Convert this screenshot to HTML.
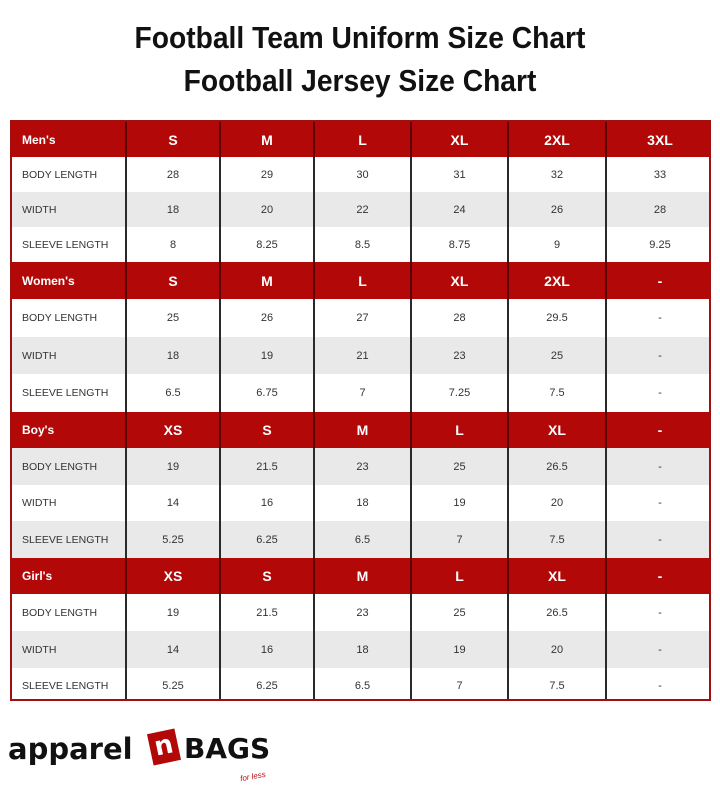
<!DOCTYPE html>
<html><head><meta charset="utf-8"><style>
body{margin:0;width:720px;height:805px;background:#fff;position:relative;overflow:hidden;font-family:"Liberation Sans",sans-serif}
.t{position:absolute;left:0;width:720px;text-align:center;font-family:"Liberation Sans Narrow","Liberation Sans",sans-serif;font-weight:bold;font-size:31px;color:#111;transform:scaleX(0.91)}
.tbl{position:absolute;left:10px;top:120px;width:701px;height:581px;border:2px solid #a01010;box-sizing:border-box;overflow:hidden}
.r{position:absolute;left:0;width:701px;display:flex}
.r div{box-sizing:border-box;display:flex;align-items:center;justify-content:center;border-right:2px solid #2a2a2a;font-size:11px;color:#333}
.r div:first-child{justify-content:flex-start;padding-left:10px;width:115px;font-size:10.5px}
.r div:nth-child(2){width:94px}.r div:nth-child(3){width:94px}.r div:nth-child(4){width:97px}.r div:nth-child(5){width:97px}.r div:nth-child(6){width:98px}.r div:nth-child(7){flex:1;border-right:none}
.h{background:#b30808}.h div{color:#fff;font-weight:bold;font-size:14px;border-right-color:#5a0000}
.h div:first-child{font-size:12px}
.g{background:#e9e9e9}
</style></head><body>
<div class="t" style="top:20px">Football Team Uniform Size Chart</div>
<div class="t" style="top:63px">Football Jersey Size Chart</div>
<div class="tbl">
<div class="r h" style="top:0;height:35px"><div>Men's</div><div>S</div><div>M</div><div>L</div><div>XL</div><div>2XL</div><div>3XL</div></div>
<div class="r" style="top:35px;height:35px"><div>BODY LENGTH</div><div>28</div><div>29</div><div>30</div><div>31</div><div>32</div><div>33</div></div>
<div class="r g" style="top:70px;height:35px"><div>WIDTH</div><div>18</div><div>20</div><div>22</div><div>24</div><div>26</div><div>28</div></div>
<div class="r" style="top:105px;height:35px"><div>SLEEVE LENGTH</div><div>8</div><div>8.25</div><div>8.5</div><div>8.75</div><div>9</div><div>9.25</div></div>
<div class="r h" style="top:140px;height:37px"><div>Women's</div><div>S</div><div>M</div><div>L</div><div>XL</div><div>2XL</div><div>-</div></div>
<div class="r" style="top:177px;height:38px"><div>BODY LENGTH</div><div>25</div><div>26</div><div>27</div><div>28</div><div>29.5</div><div>-</div></div>
<div class="r g" style="top:215px;height:37px"><div>WIDTH</div><div>18</div><div>19</div><div>21</div><div>23</div><div>25</div><div>-</div></div>
<div class="r" style="top:252px;height:38px"><div>SLEEVE LENGTH</div><div>6.5</div><div>6.75</div><div>7</div><div>7.25</div><div>7.5</div><div>-</div></div>
<div class="r h" style="top:290px;height:36px"><div>Boy's</div><div>XS</div><div>S</div><div>M</div><div>L</div><div>XL</div><div>-</div></div>
<div class="r g" style="top:326px;height:37px"><div>BODY LENGTH</div><div>19</div><div>21.5</div><div>23</div><div>25</div><div>26.5</div><div>-</div></div>
<div class="r" style="top:363px;height:36px"><div>WIDTH</div><div>14</div><div>16</div><div>18</div><div>19</div><div>20</div><div>-</div></div>
<div class="r g" style="top:399px;height:37px"><div>SLEEVE LENGTH</div><div>5.25</div><div>6.25</div><div>6.5</div><div>7</div><div>7.5</div><div>-</div></div>
<div class="r h" style="top:436px;height:36px"><div>Girl's</div><div>XS</div><div>S</div><div>M</div><div>L</div><div>XL</div><div>-</div></div>
<div class="r" style="top:472px;height:37px"><div>BODY LENGTH</div><div>19</div><div>21.5</div><div>23</div><div>25</div><div>26.5</div><div>-</div></div>
<div class="r g" style="top:509px;height:37px"><div>WIDTH</div><div>14</div><div>16</div><div>18</div><div>19</div><div>20</div><div>-</div></div>
<div class="r" style="top:546px;height:35px"><div>SLEEVE LENGTH</div><div>5.25</div><div>6.25</div><div>6.5</div><div>7</div><div>7.5</div><div>-</div></div>
</div>
<div style="position:absolute;left:8px;top:732px;font-family:'DejaVu Sans',sans-serif;font-weight:bold;font-size:29px;letter-spacing:0px;color:#111;line-height:34px">apparel</div>
<div style="position:absolute;left:150px;top:731px;width:28px;height:32px;background:#b30808;transform:rotate(-12deg);color:#fff;font-family:'DejaVu Sans',sans-serif;font-weight:bold;font-size:26px;text-align:center;line-height:30px">n</div>
<div style="position:absolute;left:184px;top:732px;font-family:'DejaVu Sans',sans-serif;font-weight:bold;font-size:28px;letter-spacing:0px;color:#111;line-height:34px">BAGS</div>
<div style="position:absolute;left:240px;top:772px;font-size:8px;color:#b30808;font-style:italic;transform:rotate(-10deg)">for less</div>
</body></html>
